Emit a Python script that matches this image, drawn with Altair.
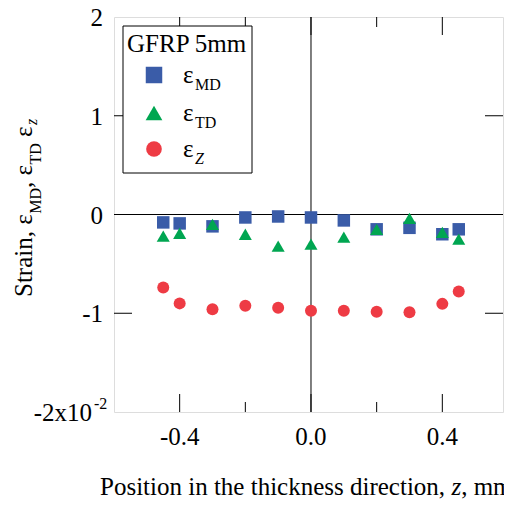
import altair as alt
import pandas as pd

# ---------------- data (values in units of 1e-2) ----------------
positions = [-0.45, -0.40, -0.30, -0.20, -0.10, 0.00, 0.10, 0.20, 0.30, 0.40, 0.45]
strain_md = [-0.08, -0.09, -0.12, -0.03, -0.02, -0.03, -0.06, -0.15, -0.135, -0.20, -0.15]
strain_td = [-0.22, -0.19, -0.10, -0.20, -0.32, -0.30, -0.23, -0.15, -0.04, -0.18, -0.25]
strain_z = [-0.74, -0.90, -0.96, -0.925, -0.945, -0.975, -0.975, -0.985, -0.99, -0.905, -0.78]

x_major_ticks = [-0.4, 0.0, 0.4]
x_minor_ticks = [-0.2, 0.2]
x_tick_labels = ["-0.4", "0.0", "0.4"]
y_major_ticks = [-1, 0, 1]
y_label_values = [2, 1, 0, -1]
y_label_texts = ["2", "1", "0", "-1"]

legend_title = "GFRP 5mm"

# ---------------- layout ----------------
# the original frame runs to x=0.6 just past the picture's right edge;
# the visible part is kept at the original scale
W, H = 389, 395
X_MIN, X_MAX = -0.6, 0.5848
FONT = "Liberation Serif"
FS = 25
FS_SUB = 16
C_MD = "#3a5ca8"
C_TD = "#00a651"
C_Z = "#ee3b44"

TNR = {' ': 250, ',': 250, '.': 250, '-': 333, 'P': 556, 'o': 500, 's': 389, 'i': 278,
       't': 278, 'n': 500, 'h': 500, 'e': 444, 'c': 444, 'k': 500, 'd': 500, 'r': 333,
       'S': 556, 'a': 444, 'M': 889, 'D': 722, 'T': 611, 'm': 778, 'z': 389, 'ε': 440}


def tw(s, size):
    return sum(TNR.get(ch, 500) for ch in s) * size / 1000.0


xs = alt.Scale(domain=[X_MIN, X_MAX], nice=False, zero=False)
ys = alt.Scale(domain=[-2, 2], nice=False, zero=False)

one = pd.DataFrame({"a": [0]})

pts = pd.DataFrame({"x": positions, "md": strain_md, "td": strain_td, "ez": strain_z})


def points(col, shape, color, size):
    return alt.Chart(pts).mark_point(shape=shape, filled=True, size=size, opacity=1,
                                     color=color, strokeWidth=0).encode(
        x=alt.X("x:Q", scale=xs, axis=None),
        y=alt.Y(f"{col}:Q", scale=ys, axis=None))


# crosshair lines
vline = alt.Chart(pd.DataFrame({"x": [0.0]})).mark_rule(color="black", strokeWidth=1).encode(
    x=alt.X("x:Q", scale=xs, axis=None))
hline = alt.Chart(pd.DataFrame({"y": [0.0]})).mark_rule(color="black", strokeWidth=1).encode(
    y=alt.Y("y:Q", scale=ys, axis=None))

xmaj = pd.DataFrame({"x": x_major_ticks})
xmin = pd.DataFrame({"x": x_minor_ticks})
ymaj = pd.DataFrame({"y": y_major_ticks})


def xticks(df, y0, y1):
    return alt.Chart(df).mark_rule(color="black", strokeWidth=1).encode(
        x=alt.X("x:Q", scale=xs, axis=None), y=alt.value(y0), y2=alt.value(y1))


def yticks(df, x0, x1):
    return alt.Chart(df).mark_rule(color="black", strokeWidth=1).encode(
        y=alt.Y("y:Q", scale=ys, axis=None), x=alt.value(x0), x2=alt.value(x1))


ticks = [xticks(xmaj, H - 18, H), xticks(xmin, H - 10, H),
         xticks(xmaj, 0, 18), xticks(xmin, 0, 10),
         yticks(ymaj, 0, 18), yticks(ymaj, W - 18, W)]

# tick labels
xlab = alt.Chart(pd.DataFrame({"x": x_major_ticks, "t": x_tick_labels})).mark_text(
    font=FONT, fontSize=FS, align="center", baseline="alphabetic", color="black").encode(
    x=alt.X("x:Q", scale=xs, axis=None), y=alt.value(H + 33), text="t:N")
ylab = alt.Chart(pd.DataFrame({"y": y_label_values, "t": y_label_texts})).mark_text(
    font=FONT, fontSize=FS, align="right", baseline="alphabetic", dy=9, color="black").encode(
    y=alt.Y("y:Q", scale=ys, axis=None), x=alt.value(-11), text="t:N")
ylab_exp = alt.Chart(pd.DataFrame({"y": [-2], "t": ["-2x10"]})).mark_text(
    font=FONT, fontSize=FS, align="right", baseline="alphabetic", dy=9, color="black").encode(
    y=alt.Y("y:Q", scale=ys, axis=None), x=alt.value(-22), text="t:N")
ylab_sup = alt.Chart(pd.DataFrame({"y": [-2], "t": ["-2"]})).mark_text(
    font=FONT, fontSize=FS_SUB, align="left", baseline="alphabetic", dy=-3, color="black").encode(
    y=alt.Y("y:Q", scale=ys, axis=None), x=alt.value(-20), text="t:N")


def txt(s, x, y, size=FS, style="normal", align="left", angle=0, dx=0, dy=0):
    kw = dict(font=FONT, fontSize=size, fontStyle=style, align=align,
              baseline="alphabetic", color="black", dx=dx, dy=dy, text=s)
    if angle:
        kw["angle"] = angle
    return alt.Chart(one).mark_text(**kw).encode(x=alt.value(x), y=alt.value(y))


# x title
xt_main = "Position in the thickness direction, "
xt_x, xt_y = -14, 478
w1 = tw(xt_main, FS)
x_title = [txt(xt_main.rstrip(), xt_x, xt_y),
           txt("z", xt_x + w1, xt_y, style="italic"),
           txt(", mm", xt_x + w1 + tw("z", FS), xt_y)]

# y title (rotated)
yt_x, yt_y = -82, 280
d1 = tw("Strain, ε", FS)
d2 = d1 + tw("MD", FS_SUB)
d3 = d2 + tw(", ε", FS)
d4 = d3 + tw("TD", FS_SUB)
d5 = d4 + tw(" ", FS)
d6 = d5 + tw("ε", FS)
y_title = [txt("Strain, ε", yt_x, yt_y, angle=270),
           txt("MD", yt_x, yt_y, size=FS_SUB, angle=270, dx=d1, dy=9),
           txt(", ε", yt_x, yt_y, angle=270, dx=d2),
           txt("TD", yt_x, yt_y, size=FS_SUB, angle=270, dx=d3, dy=9),
           txt("ε", yt_x, yt_y, angle=270, dx=d5),
           txt("z", yt_x, yt_y, size=FS_SUB, style="italic", angle=270, dx=d6 + 1, dy=5)]

# legend
leg_box = alt.Chart(one).mark_rect(fill="white", stroke="black", strokeWidth=1).encode(
    x=alt.value(9), x2=alt.value(138), y=alt.value(9), y2=alt.value(156))
leg = [leg_box, txt(legend_title, 13, 35)]
entries = [("square", C_MD, 272, "MD", "normal"),
           ("triangle-up", C_TD, 280, "TD", "normal"),
           ("circle", C_Z, 246, "Z", "italic")]
for i, (shape, color, size, sub, st) in enumerate(entries):
    yy = [58, 96, 132][i]
    leg.append(alt.Chart(one).mark_point(shape=shape, filled=True, size=size, opacity=1,
                                         color=color, strokeWidth=0).encode(
        x=alt.value(40), y=alt.value(yy)))
    leg.append(txt("ε", 69, yy + 8))
    leg.append(txt(sub, 81, yy + 15, size=FS_SUB, style=st))

layers = ticks + [vline, hline,
                  points("md", "square", C_MD, 156),
                  points("td", "triangle-up", C_TD, 170),
                  points("ez", "circle", C_Z, 144),
                  xlab, ylab, ylab_exp, ylab_sup] + x_title + y_title + leg

chart = alt.layer(*layers).properties(
    width=W, height=H,
    autosize=alt.AutoSizeParams(type="none"),
    padding={"left": 106, "top": 9, "right": 1, "bottom": 88},
).configure_view(stroke="black", strokeWidth=1).configure(font=FONT)

chart.save("out.html", embed_options={"renderer": "svg", "actions": False})
